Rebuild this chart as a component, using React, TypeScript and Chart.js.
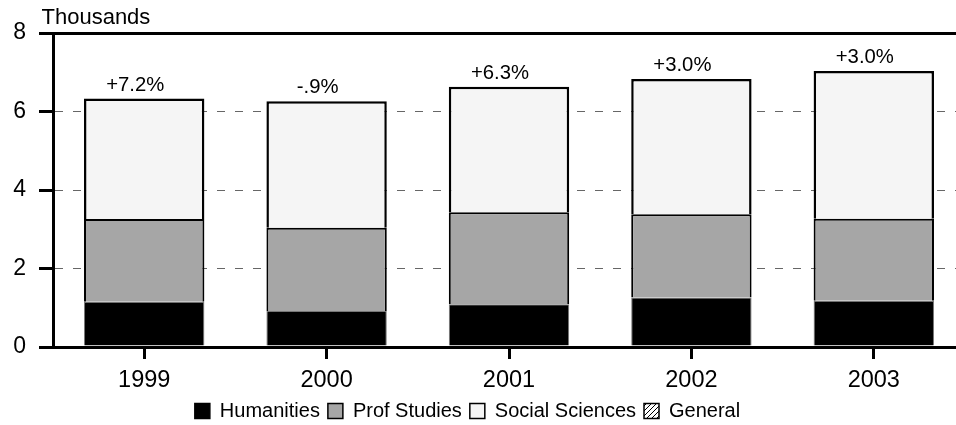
import React, { useEffect, useRef } from 'react';
import { Chart, registerables } from 'chart.js';

Chart.register(...registerables);

const years = ['1999', '2000', '2001', '2002', '2003'];
const humanities = [1.15, 0.92, 1.09, 1.26, 1.18];
const profStudies = [2.11, 2.12, 2.34, 2.12, 2.09];
const socialSciences = [3.07, 3.22, 3.2, 3.45, 3.76];
const general = [0, 0, 0, 0, 0];
const changeLabels = ['+7.2%', '-.9%', '+6.3%', '+3.0%', '+3.0%'];
const yTicks = [0, 2, 4, 6, 8];
const unitLabel = 'Thousands';

const FONT = '"Liberation Sans", Arial, Helvetica, sans-serif';

function makeHatch(ctx: CanvasRenderingContext2D) {
  const c = document.createElement('canvas');
  c.width = 5;
  c.height = 5;
  const g = c.getContext('2d')!;
  g.fillStyle = '#fff';
  g.fillRect(0, 0, 5, 5);
  g.strokeStyle = '#000';
  g.lineWidth = 1;
  g.beginPath();
  g.moveTo(0, 5);
  g.lineTo(5, 0);
  g.moveTo(-1, 1);
  g.lineTo(1, -1);
  g.moveTo(4, 6);
  g.lineTo(6, 4);
  g.stroke();
  return ctx.createPattern(c, 'repeat');
}

export default function App() {
  const ref = useRef<HTMLCanvasElement>(null);

  useEffect(() => {
    document.body.style.margin = '0';
    const canvas = ref.current!;
    const ctx = canvas.getContext('2d')!;
    const hatch = makeHatch(ctx);

    const isEdge = (c: any) => c.tick && (c.tick.value === 0 || c.tick.value === 8);

    const annot = {
      id: 'annot',
      afterDatasetsDraw(chart: any) {
        const c = chart.ctx;
        const meta = chart.getDatasetMeta(2);
        c.save();
        c.fillStyle = '#000';
        c.font = `20.3px ${FONT}`;
        c.textAlign = 'center';
        c.textBaseline = 'alphabetic';
        meta.data.forEach((bar: any, i: number) => {
          c.fillText(changeLabels[i], bar.x - 9, bar.y - 8);
        });
        c.textAlign = 'left';
        c.font = `22px ${FONT}`;
        c.fillText(unitLabel, 41.5, 23.5);
        c.restore();
      },
    };

    const legendShift = {
      id: 'legendShift',
      afterLayout(chart: any) {
        const l = chart.legend;
        if (l) {
          l.left -= 15;
          l.right -= 15;
        }
      },
    };

    const chart = new Chart(canvas, {
      type: 'bar',
      data: {
        labels: years,
        datasets: [
          { label: 'Humanities', data: humanities, backgroundColor: '#000', borderColor: '#777', borderWidth: 1 },
          { label: 'Prof Studies', data: profStudies, backgroundColor: '#a6a6a6', borderColor: '#000', borderWidth: 2 },
          { label: 'Social Sciences', data: socialSciences, backgroundColor: '#f5f5f5', borderColor: '#000', borderWidth: 2.5 },
          { label: 'General', data: general, backgroundColor: hatch as any, borderColor: '#000', borderWidth: 1 },
        ],
      },
      options: {
        animation: false,
        responsive: false,
        devicePixelRatio: 1,
        layout: { padding: { top: 33, bottom: 9, left: 0, right: 0 } },
        datasets: { bar: { barPercentage: 0.66, categoryPercentage: 1 } },
        plugins: {
          tooltip: { enabled: false },
          legend: {
            position: 'bottom',
            labels: {
              color: '#000',
              font: { size: 20, family: FONT },
              boxWidth: 15,
              boxHeight: 15,
              padding: 8,
              generateLabels: (ch: any) =>
                Chart.defaults.plugins.legend.labels.generateLabels(ch).map((l: any) => ({ ...l, lineWidth: 1.5, strokeStyle: '#000' })),
            },
          },
        },
        scales: {
          x: {
            stacked: true,
            grid: {
              offset: false,
              drawOnChartArea: false,
              drawTicks: true,
              tickLength: 12,
              tickColor: '#000',
              tickWidth: 3,
              color: '#000',
              lineWidth: 3,
            },
            border: { display: true, color: '#000', width: 3 },
            ticks: { color: '#000', font: { size: 23.5, family: FONT }, padding: 7, maxRotation: 0 },
            afterFit: (s: any) => {
              s.height = 46;
            },
          },
          y: {
            stacked: true,
            min: 0,
            max: 8,
            afterBuildTicks: (s: any) => {
              s.ticks = yTicks.map((v) => ({ value: v }));
            },
            grid: {
              color: (c: any) => (isEdge(c) ? '#000' : '#666'),
              lineWidth: (c: any) => (isEdge(c) ? 3 : 1),
              tickColor: '#000',
              tickWidth: 3,
              tickLength: 14,
              drawTicks: true,
            },
            border: {
              display: true,
              color: '#000',
              width: 3,
              dash: (c: any) => (isEdge(c) ? [] : [8, 10]),
            } as any,
            ticks: { color: '#000', font: { size: 23, family: FONT }, padding: 13 },
            afterFit: (s: any) => {
              s.width = 53;
            },
          },
        },
      } as any,
      plugins: [annot, legendShift],
    });
    return () => chart.destroy();
  }, []);

  return (
    <div style={{ width: 956, height: 425, overflow: 'hidden', position: 'relative' }}>
      <canvas ref={ref} width={965} height={440} style={{ display: 'block', width: 965, height: 440 }} />
    </div>
  );
}
